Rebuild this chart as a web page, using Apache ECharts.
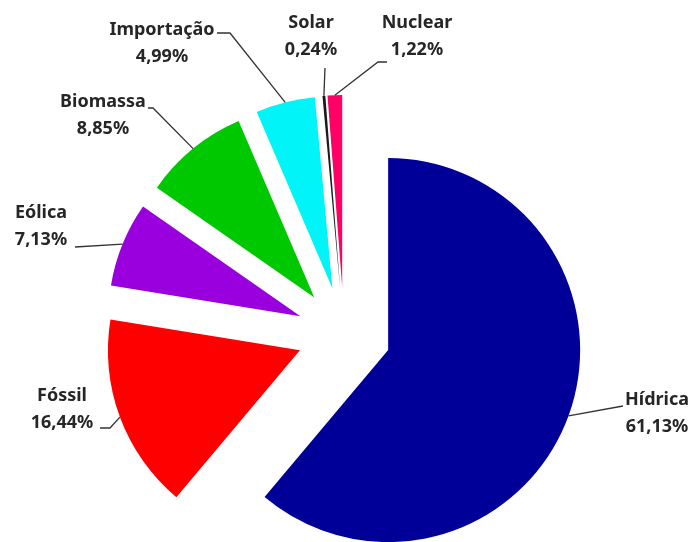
<!DOCTYPE html>
<html><head><meta charset="utf-8">
<script src="https://cdn.jsdelivr.net/npm/echarts@6/dist/echarts.min.js"></script>
<style>html,body{margin:0;padding:0;background:#fff}#c{width:694px;height:542px}</style>
</head><body><div id="c"></div>
<script>
var categories = ["Hídrica", "Fóssil", "Eólica", "Biomassa", "Importação", "Solar", "Nuclear"];
var values = [61.13, 16.44, 7.13, 8.85, 4.99, 0.24, 1.22];
var colors = ["#000099", "#ff0000", "#9900dd", "#00c800", "#00f4f8", "#1a1a1a", "#ff0066"];

// layout (not data): pie geometry and label placement
var CENTER = [344, 334], RADIUS = 192, OFFSET = 47;
var labelCenter = {
  "Hídrica": [657, 413], "Fóssil": [62, 409], "Eólica": [41, 226],
  "Biomassa": [103, 115], "Importação": [162, 43], "Solar": [311, 36], "Nuclear": [417, 36]
};
var leaderTail = {
  "Hídrica": [[623, 406]], "Fóssil": [[110, 428], [100, 428]], "Eólica": [[75, 247]],
  "Biomassa": [[153, 108], [148, 108]], "Importação": [[230, 33], [217, 33]],
  "Solar": [[325, 68]], "Nuclear": [[378, 62], [387, 62]]
};

function fmt(v){ return v.toFixed(2).replace('.', ','); }
function dir(deg){ var r = deg * Math.PI / 180; return [Math.sin(r), -Math.cos(r)]; }

var total = values.reduce(function(a,b){return a+b;}, 0);
var graphics = [];
var acc = 0;
categories.forEach(function(n, i){
  var a0 = acc / total * 360; acc += values[i];
  var a1 = acc / total * 360;
  var mid = (a0 + a1) / 2, d = dir(mid);
  var start = [CENTER[0] + (OFFSET + RADIUS) * d[0], CENTER[1] + (OFFSET + RADIUS) * d[1]];
  graphics.push({
    type: 'polyline', silent: true, z: 10,
    shape: { points: [start].concat(leaderTail[n]) },
    style: { stroke: '#333', lineWidth: 1.3, fill: null }
  });
  var lc = labelCenter[n];
  graphics.push({
    type: 'text', silent: true, z: 10,
    x: lc[0], y: lc[1],
    style: {
      text: n + '\n' + fmt(values[i]) + '%',
      align: 'center', verticalAlign: 'middle',
      fontFamily: 'Noto Sans', fontWeight: 'bold', fontSize: 18, lineHeight: 27,
      fill: '#262626'
    }
  });
});

var chart = echarts.init(document.getElementById('c'), null, {renderer:'canvas'});
var data = categories.map(function(n,i){
  return {name:n, value:values[i], selected:true, itemStyle:{color:colors[i]}};
});
chart.setOption({
  animation:false,
  graphic: graphics,
  series:[{
    type:'pie',
    center:CENTER,
    radius:RADIUS,
    startAngle:90,
    clockwise:true,
    selectedMode:'multiple',
    selectedOffset:OFFSET,
    data:data,
    emphasis:{disabled:true},
    label:{show:false},
    labelLine:{show:false}
  }]
});
</script></body></html>
